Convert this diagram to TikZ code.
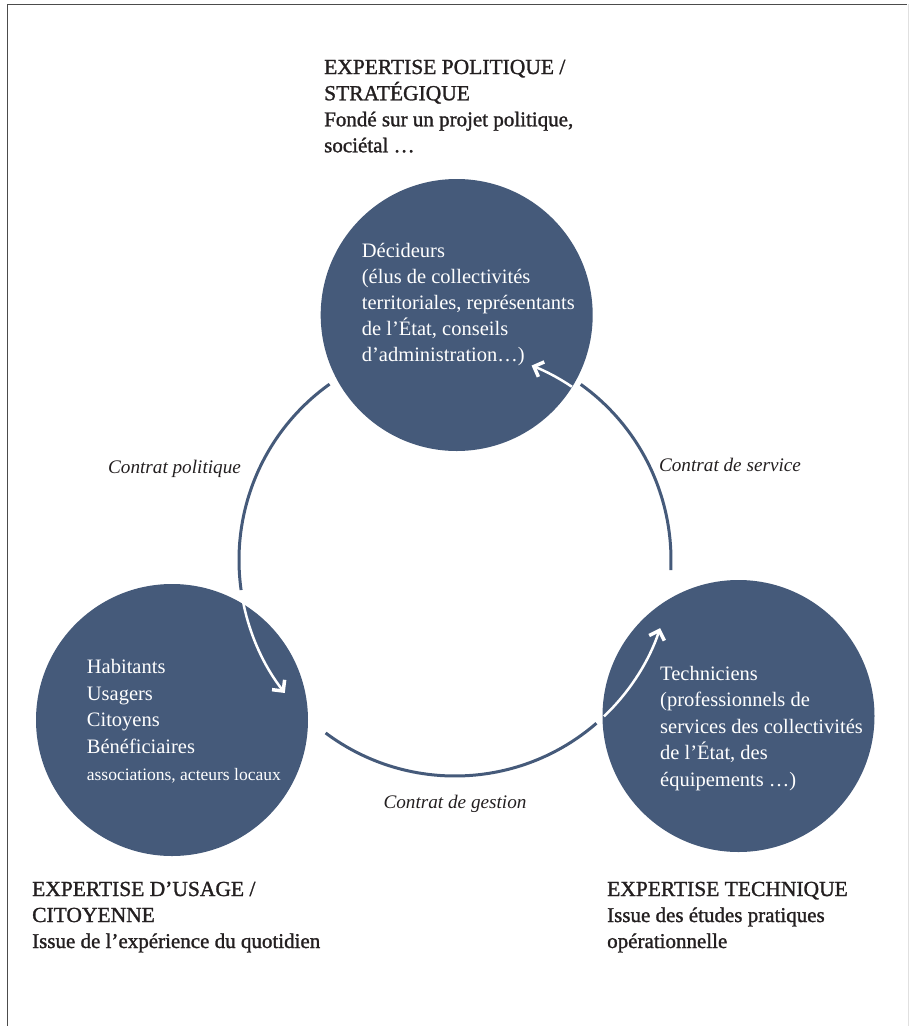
\documentclass[tikz,border=0pt]{standalone}
\usepackage{fontspec}
\setmainfont{Liberation Serif}
\newfontfamily\semib[FakeBold=1.3]{Liberation Serif}
\usetikzlibrary{arrows.meta}
\definecolor{navy}{HTML}{455A7A}
\definecolor{ink}{HTML}{231F20}
\newcommand{\blk}[1]{\begin{tabular}[t]{@{}l@{}}#1\end{tabular}}
\newcommand{\capsz}{\fontsize{21.5}{26}\selectfont}
\begin{document}
\begin{tikzpicture}[x=1pt,y=1pt,
  disc/.style={circle, fill=navy, minimum size=272pt, inner sep=0pt},
  head/.style={anchor=base west, inner sep=0pt, text=ink, font=\semib\fontsize{21}{26}\selectfont},
  intext/.style={anchor=base west, inner sep=0pt, text=white, font=\fontsize{20.5}{26.5}\selectfont},
  lbl/.style={anchor=base, inner sep=0pt, text=ink, font=\itshape\fontsize{19.2}{22}\selectfont},
  ring/.style={draw=navy, line width=3pt},
  flow/.style={draw=white, line width=2.5pt, -{Straight Barb[length=8pt,width=16pt,line width=3.5pt,sharp]}},
]
\useasboundingbox (0,0) rectangle (913,-1026);
% frame
\draw[line width=1pt, draw=black!70] (7,-1026) -- (7,-4) -- (907,-4);
\draw[line width=1pt, draw=black!12] (908,-4) -- (908,-1026);

\coordinate (O) at (455,-560);

% discs
\node[disc] (dec) at (456.7,-315) {};
\node[disc] (hab) at (172,-720) {};
\node[disc] (tec) at (738.5,-716) {};

% ring arcs
\draw[ring] (O) ++(125.5:216) arc[start angle=125.5, end angle=188, radius=216];
\draw[ring] (O) ++(-2.7:216) arc[start angle=-2.7, end angle=54.4, radius=216];
\draw[ring] (O) ++(233.2:216) arc[start angle=233.2, end angle=310.9, radius=216];

% white arrows
\draw[flow] (O) ++(191:216) arc[start angle=191, end angle=218, radius=216];
\draw[flow] (O) ++(313.6:216) arc[start angle=313.6, end angle=341.5, radius=217];
\draw[flow] (O) ++(56:209) arc[start angle=56, end angle=68.5, radius=209];

% headings
\node[head] (hpol) at (324,-74) {\blk{{\capsz EXPERTISE POLITIQUE /}\\{\capsz STRATÉGIQUE}\\Fondé sur un projet politique,\\sociétal …}};
\node[head] (husa) at (32,-896) {\blk{{\capsz EXPERTISE D’USAGE /}\\{\capsz CITOYENNE}\\Issue de l’expérience du quotidien}};
\node[head] (htec) at (607,-896) {\blk{{\capsz EXPERTISE TECHNIQUE}\\Issue des études pratiques\\opérationnelle}};

% disc texts
\node[intext, font=\fontsize{20.5}{26}\selectfont] (tdec) at (361.7,-257.3) {\blk{Décideurs\\(élus de collectivités\\territoriales, représentants\\de l’État, conseils\\d’administration…)}};
\node[intext, font=\fontsize{20.5}{26.8}\selectfont] (thab) at (86.7,-673.3) {\blk{Habitants\\Usagers\\Citoyens\\Bénéficiaires\\{\fontsize{17.5}{20}\selectfont associations, acteurs locaux}}};
\node[intext] (ttec) at (660,-680) {\blk{Techniciens\\(professionnels de\\services des collectivités\\de l’État, des\\équipements …)}};

% labels
\node[lbl] (lpol) at (174.5,-473) {Contrat politique};
\node[lbl] (lser) at (730,-471) {Contrat de service};
\node[lbl] (lges) at (455,-808) {Contrat de gestion};
\end{tikzpicture}
\end{document}
